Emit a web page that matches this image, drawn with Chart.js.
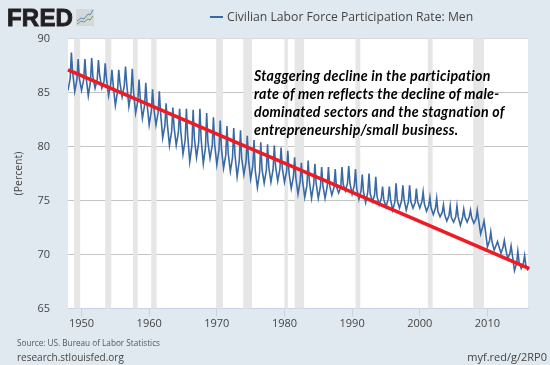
<!DOCTYPE html>
<html lang="en">
<head>
  <meta charset="UTF-8">
  <title>Civilian Labor Force Participation Rate: Men</title>
  <script src="https://cdn.jsdelivr.net/npm/chart.js"></script>
  <style>
    body { margin: 0; background: #e1e9f0; overflow: hidden; }
    #wrap { position: relative; width: 550px; height: 365px; font-family: "Open Sans", sans-serif; }
    #wrap div { position: absolute; white-space: nowrap; }
    #logo { left: 7px; top: 3px; font: bold 24px/30px "Liberation Sans", sans-serif; color: #231f20; -webkit-text-stroke: 0.9px #231f20; letter-spacing: 0.2px; }
    #icon { position: absolute; left: 76px; top: 9px; }
    #legend { left: 227px; top: 8px; font-size: 12.2px; line-height: 18px; color: #444; }
    #legendLine { left: 210px; top: 16px; width: 13px; height: 2px; background: #3a6aa5; }
    #note { left: 254px; top: 67px; font: italic bold 14.2px/18px Lato, sans-serif; letter-spacing: 0.25px; color: #000; }
    #source { left: 17px; top: 337px; font-size: 8.2px; line-height: 12px; color: #555; }
    #site { left: 17px; top: 350px; font-size: 10px; line-height: 14px; color: #444; }
    #short { right: 3px; top: 350px; font-size: 11px; line-height: 14px; color: #444; }
  </style>
</head>
<body>
  <div id="wrap">
    <canvas id="graphic" width="550" height="365"></canvas>
    <div id="logo">FRED</div>
    <svg id="icon" width="18" height="17" viewBox="0 0 18 17">
      <rect width="18" height="17" fill="#d5d8d8"/>
      <polyline points="1,12 5,9 8,10 12,5 14,6 17,1" fill="none" stroke="#5b8ab5" stroke-width="1"/>
      <polyline points="1,15 5,12 8,13 12,10 14,11 17,7" fill="none" stroke="#7d9a4a" stroke-width="1"/>
    </svg>
    <div id="legendLine"></div>
    <div id="legend">Civilian Labor Force Participation Rate: Men</div>
    <div id="note">Staggering decline in the participation<br>rate of men reflects the decline of male-<br>dominated sectors and the stagnation of<br>entrepreneurship/small business.</div>
    <div id="source">Source: US. Bureau of Labor Statistics</div>
    <div id="site">research.stlouisfed.org</div>
    <div id="short">myf.red/g/2RP0</div>
  </div>

  <script>
    // Valores, un valor por ano desde 1948
    const firstYear = 1948;
    const janValues = [
      85.2,85.1,85.2,84.7,85.4,85.4,84.7,83.8,84.6,83.7,
      83.1,82.6,82.0,82.0,80.8,80.1,80.1,79.3,78.6,79.0,
      78.4,78.9,78.3,78.0,77.7,77.2,77.4,77.0,76.2,76.6,
      76.7,76.8,76.7,76.1,75.6,75.3,75.2,75.2,75.2,75.5,
      75.7,75.9,75.6,75.1,74.8,74.9,74.6,74.4,74.1,74.3,
      74.1,74.3,74.3,74.0,73.7,73.5,73.1,73.0,72.7,73.0,
      72.9,71.9,70.7,70.4,70.1,69.6,68.5,68.7
    ];
    const aprValues = [
      86.3,86.2,86.2,86.0,86.2,86.0,85.8,85.1,85.6,85.0,
      84.2,83.8,83.3,83.1,81.9,81.4,81.3,80.6,80.1,80.4,
      79.9,80.1,79.7,79.2,79.0,78.7,78.6,78.2,77.6,77.8,
      77.9,77.9,77.7,77.2,76.8,76.4,76.5,76.3,76.3,76.2,
      76.2,76.6,76.4,75.9,75.8,75.5,75.2,75.1,74.9,75.0,
      74.9,74.8,74.9,74.5,74.3,73.9,73.6,73.5,73.4,73.5,
      73.3,72.6,71.3,70.9,70.7,70.1,69.2,69.2
    ];
    const julValues = [
      88.7,88.1,88.1,88.2,88.0,87.7,87.1,87.1,87.4,87.2,
      86.2,85.9,85.3,85.1,84.0,83.6,83.5,83.5,83.4,83.5,
      83.1,82.7,82.4,81.9,81.7,81.5,81.0,80.6,80.4,80.2,
      80.1,79.9,79.6,79.0,78.5,78.7,78.4,78.1,78.1,77.9,
      78.1,78.2,77.9,77.4,77.5,77.2,76.3,76.3,76.6,76.4,
      76.4,76.1,75.8,75.3,75.2,74.6,74.5,74.5,74.2,74.1,
      74.1,73.1,72.1,71.2,71.3,70.8,70.3,69.9
    ];
    const octValues = [
      86.9,86.3,86.4,86.5,86.6,86.3,85.7,85.9,85.8,85.1,
      84.5,84.0,83.6,83.2,82.1,81.8,81.4,81.1,80.8,80.7,
      80.4,80.2,79.8,79.4,79.3,78.9,78.8,77.8,77.9,78.1,
      78.2,78.0,77.5,77.1,76.8,76.8,76.6,76.4,76.4,76.3,
      76.5,76.6,76.1,75.8,75.6,75.4,75.1,75.1,75.0,75.1,
      74.9,74.9,74.7,74.3,74.0,73.7,73.4,73.5,73.5,73.4,
      73.3,72.3,71.2,70.8,70.6,70.0,69.3,69.0
    ];
    const lastValue = 68.5;
    const seasonOffsets = [0, 0.32, 0.5, 0.68];

    const trendYears = [1948, 2016.2];
    const trendValues = [87.1, 68.7];

    // Recesiones [inicio, fin]
    const recessions = [
      [1948.9, 1949.8], [1953.5, 1954.4], [1957.6, 1958.3], [1960.3, 1961.1],
      [1969.9, 1970.9], [1973.9, 1975.2], [1980.0, 1980.5], [1981.5, 1982.9],
      [1990.5, 1991.2], [2001.2, 2001.9], [2007.9, 2009.5]
    ];

    const tickYears = [1950, 1960, 1970, 1980, 1990, 2000, 2010];
    const tickFont = { family: "'Open Sans', sans-serif", size: 11 };

    const seriesPoints = [];
    janValues.forEach((jan, i) => {
      [jan, aprValues[i], julValues[i], octValues[i]].forEach((y, k) => {
        seriesPoints.push({ x: firstYear + i + seasonOffsets[k], y: y });
      });
    });
    seriesPoints.push({ x: firstYear + janValues.length, y: lastValue });

    const trendPoints = trendYears.map((x, i) => ({ x: x, y: trendValues[i] }));

    const plotBackground = {
      id: 'plotBackground',
      beforeDraw(chart) {
        const a = chart.chartArea;
        chart.ctx.fillStyle = '#fff';
        chart.ctx.fillRect(a.left, a.top, a.width, a.height);
      }
    };

    const recessionBands = {
      id: 'recessionBands',
      beforeDatasetsDraw(chart) {
        const a = chart.chartArea;
        const x = chart.scales.x;
        chart.ctx.fillStyle = '#e6e6e6';
        recessions.forEach(r => {
          const left = x.getPixelForValue(r[0]);
          chart.ctx.fillRect(left, a.top, x.getPixelForValue(r[1]) - left, a.height);
        });
      }
    };

    new Chart(document.getElementById('graphic'), {
      type: 'line',
      data: {
        datasets: [
          {
            label: 'Trend',
            data: trendPoints,
            borderColor: '#ed1c24',
            borderWidth: 3.6,
            pointRadius: 0,
            clip: false,
            order: 1
          },
          {
            label: 'Civilian Labor Force Participation Rate: Men',
            data: seriesPoints,
            borderColor: '#3a6aa5',
            borderWidth: 1.6,
            pointRadius: 0,
            tension: 0,
            order: 2
          }
        ]
      },
      options: {
        responsive: false,
        animation: false,
        layout: { padding: { top: 38.5, right: 22, left: 0, bottom: 0 } },
        plugins: { legend: { display: false }, tooltip: { enabled: false } },
        scales: {
          x: {
            type: 'linear',
            min: 1948,
            max: 2016,
            afterFit: s => { s.height = 56.5; },
            afterBuildTicks: s => { s.ticks = tickYears.map(v => ({ value: v })); },
            border: { color: '#c5d3e2' },
            grid: { drawOnChartArea: false, color: '#c5d3e2', tickLength: 8 },
            ticks: {
              font: tickFont,
              color: '#444',
              maxRotation: 0,
              padding: 1,
              callback: v => String(v)
            }
          },
          y: {
            min: 65,
            max: 90,
            afterFit: s => { s.width = 68; },
            border: { display: false },
            grid: { color: ctx => ctx.tick.value === 90 ? '#d8d8d8' : '#c4c4c4', drawTicks: false },
            ticks: { stepSize: 5, font: tickFont, color: '#444', padding: 18 },
            title: {
              display: true,
              text: '(Percent)',
              font: { family: "'Open Sans', sans-serif", size: 10.5 },
              color: '#444',
              padding: { top: 13, bottom: 0 }
            }
          }
        }
      },
      plugins: [plotBackground, recessionBands]
    });
  </script>
</body>
</html>
